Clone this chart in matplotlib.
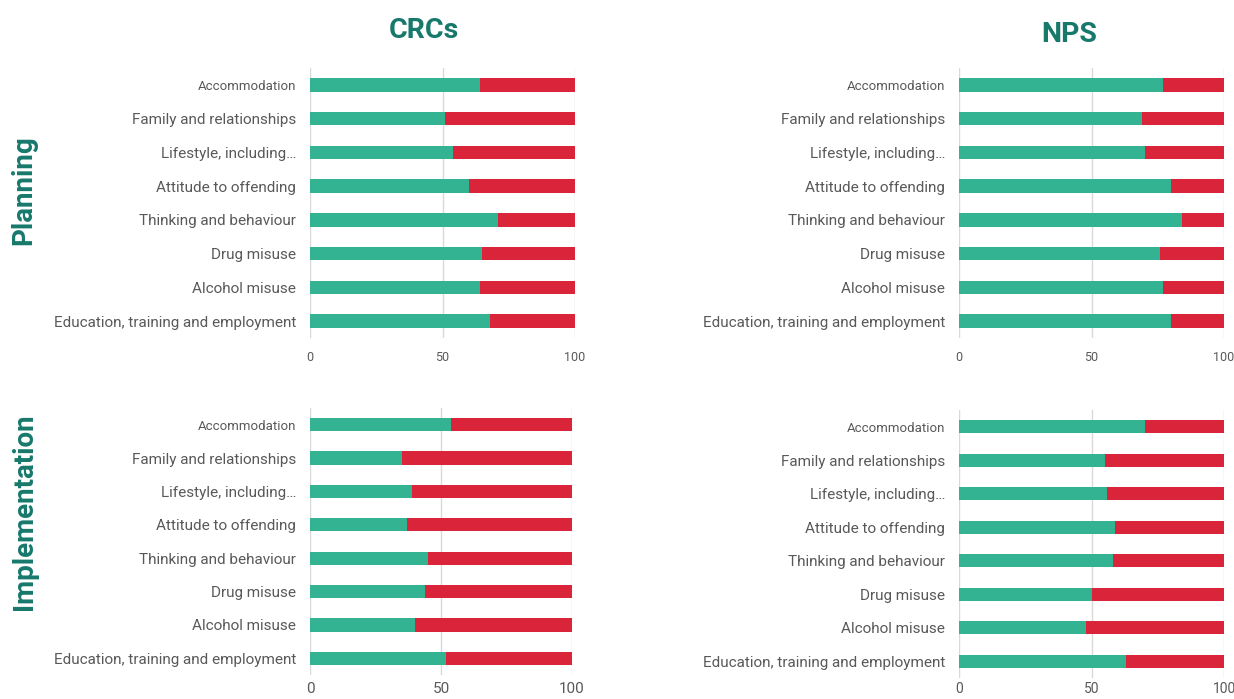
import numpy as np
import matplotlib.pyplot as plt

plt.rcParams['font.family'] = ['Roboto', 'DejaVu Sans']

CATEGORIES = [
    "Accommodation", "Family and relationships", "Lifestyle, including…",
    "Attitude to offending", "Thinking and behaviour", "Drug misuse",
    "Alcohol misuse", "Education, training and employment",
]
CRC_PLANNING = [64, 51, 54, 60, 71, 65, 64, 68]
NPS_PLANNING = [77, 69, 70, 80, 84, 76, 77, 80]
CRC_IMPL = [54, 35, 39, 37, 45, 44, 40, 52]
NPS_IMPL = [70, 55, 56, 59, 58, 50, 48, 63]
TOTAL = 100

GREEN = "#33b392"
RED = "#da2439"
TEAL = "#17786c"
GRAY = "#595959"

W, H = 1234, 699
fig = plt.figure(figsize=(W / 100, H / 100), dpi=100)


def px_axes(x0, y0, x1, y1):
    return fig.add_axes([x0 / W, 1 - y1 / H, (x1 - x0) / W, (y1 - y0) / H])


def panel(ax, vals, tick_size, tick_pad):
    vals = np.array(vals)
    y = np.arange(len(CATEGORIES))
    ax.barh(y, vals, height=0.4, color=GREEN)
    ax.barh(y, TOTAL - vals, left=vals, height=0.4, color=RED)
    ax.set_xlim(0, 100)
    ax.set_ylim(len(CATEGORIES) - 0.5, -0.5)
    ax.set_xticks([0, 50, 100])
    ax.set_yticks(y)
    ax.set_yticklabels(CATEGORIES)
    for i, lab in enumerate(ax.get_yticklabels()):
        lab.set_fontsize(9.5 if i == 0 else 11)
        lab.set_color(GRAY)
    ax.tick_params(axis='y', length=0, pad=10)
    ax.tick_params(axis='x', length=0, labelsize=tick_size, labelcolor=GRAY, pad=tick_pad)
    ax.grid(axis='x', color="#d9d9d9", linewidth=1)
    ax.set_axisbelow(True)
    for s in ax.spines.values():
        s.set_visible(False)


panel(px_axes(310, 68, 575, 338), CRC_PLANNING, 9, 9)
panel(px_axes(959, 68, 1224, 338), NPS_PLANNING, 9, 9)
panel(px_axes(310, 408, 572, 675), CRC_IMPL, 11, 5)
panel(px_axes(959, 410, 1224, 678), NPS_IMPL, 10, 3)

fig.text(424 / W, 1 - 30 / H, "CRCs", ha='center', va='center',
         fontsize=20.5, fontweight='bold', color=TEAL)
fig.text(1069 / W, 1 - 35 / H, "NPS", ha='center', va='center',
         fontsize=20.5, fontweight='bold', color=TEAL)
fig.text(24 / W, 1 - 190 / H, "Planning", ha='center', va='center', rotation=90,
         fontsize=20, fontweight='bold', color=TEAL)
fig.text(24 / W, 1 - 512 / H, "Implementation", ha='center', va='center', rotation=90,
         fontsize=20, fontweight='bold', color=TEAL)

fig.savefig("out.png", dpi=100)
